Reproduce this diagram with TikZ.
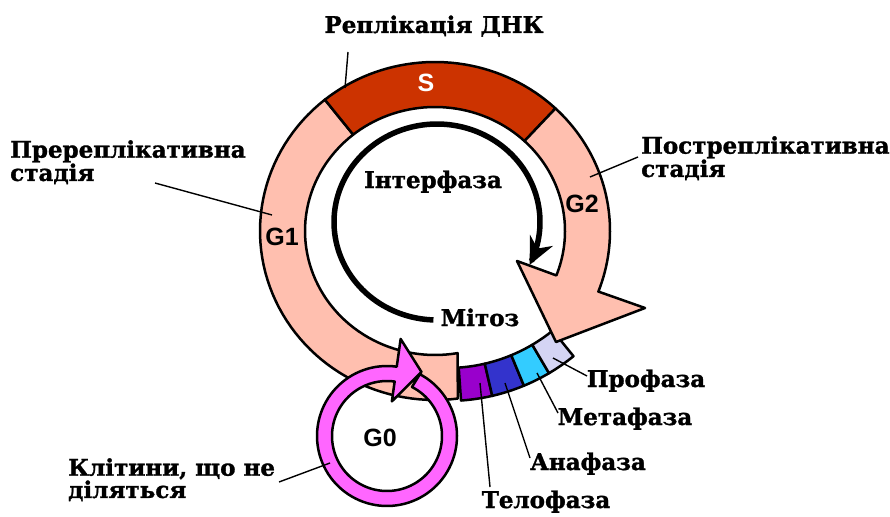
\documentclass[tikz,border=0pt]{standalone}
\usepackage{fontspec}
\setmainfont{DejaVu Serif}[BoldFeatures={FakeBold=1.3}]
\newfontfamily\gfont{Liberation Sans}
\usetikzlibrary{arrows.meta}
\definecolor{pinkG}{HTML}{FFBFAF}
\definecolor{sred}{HTML}{CC3300}
\definecolor{gzero}{HTML}{FF66FF}
\definecolor{telo}{HTML}{9900CC}
\definecolor{ana}{HTML}{3333CC}
\definecolor{meta}{HTML}{33CCFF}
\definecolor{pro}{HTML}{D4D4F4}
\begin{document}
\begin{tikzpicture}[x=1pt,y=-1pt,
  ring/.style={draw=black, line width=2.5pt, line join=round},
  lbl/.style={font=\fontsize{23}{21}\selectfont\bfseries, inner sep=0pt},
  glbl/.style={font=\fontsize{25}{25}\selectfont\gfont\bfseries, inner sep=0pt},
  leader/.style={draw=black, line width=1.4pt}]
\useasboundingbox (0,0) rectangle (890,516);
\fill[white] (0,0) rectangle (890,516);
% mitosis segments
\filldraw[ring, fill=telo] plot[domain=77:86,samples=10] ({447+168*cos(\x)},{200+168*sin(\x)}) -- plot[domain=86:77,samples=10] ({447+201*cos(\x)},{200+201*sin(\x)}) -- cycle;
\filldraw[ring, fill=ana] plot[domain=67.5:77,samples=10] ({447+168*cos(\x)},{200+168*sin(\x)}) -- plot[domain=77:67.5,samples=10] ({447+201*cos(\x)},{200+201*sin(\x)}) -- cycle;
\filldraw[ring, fill=meta] plot[domain=59.5:67.5,samples=10] ({447+168*cos(\x)},{200+168*sin(\x)}) -- plot[domain=67.5:59.5,samples=10] ({447+201*cos(\x)},{200+201*sin(\x)}) -- cycle;
\filldraw[ring, fill=pro] plot[domain=51:59.5,samples=10] ({447+168*cos(\x)},{200+168*sin(\x)}) -- plot[domain=59.5:51,samples=10] ({447+201*cos(\x)},{200+201*sin(\x)}) -- cycle;
% G1
\filldraw[ring, fill=pinkG] plot[domain=80:231,samples=60] ({435+130*cos(\x)},{231+124*sin(\x)}) -- plot[domain=231:82.5,samples=60] ({435+175*cos(\x)},{231+169*sin(\x)}) -- cycle;
% S
\filldraw[ring, fill=sred] plot[domain=231:313.5,samples=40] ({435+130*cos(\x)},{231+124*sin(\x)}) -- plot[domain=313.5:231,samples=40] ({435+175*cos(\x)},{231+169*sin(\x)}) -- cycle;
% G2 with arrow head
\filldraw[ring, fill=pinkG] plot[domain=313.5:381,samples=40] ({435+130*cos(\x)},{231+124*sin(\x)}) -- (517,261) -- (556,342) -- (645,308) -- plot[domain=381:313.5,samples=40] ({435+175*cos(\x)},{231+169*sin(\x)}) -- cycle;
% interior arrow
\draw[line width=5.5pt, -{Stealth[length=27pt,width=25pt]}] plot[domain=92:386,samples=120] ({437+103*cos(\x)},{222+98*sin(\x)});
% G0 circular arrow
\filldraw[ring, fill=gzero] plot[domain=298:638,samples=100] ({387+70*cos(\x)},{436+70*sin(\x)}) -- ({387+98*cos(638)},{436+98*sin(638)}) -- (421.5,372) -- ({387+35*cos(638)},{436+35*sin(638)}) -- plot[domain=638:297,samples=100] ({387+55*cos(\x)},{436+55*sin(\x)}) -- cycle;
% labels
\node[lbl, anchor=base] (repl) at (434,33) {Реплікація ДНК};
\node[lbl, anchor=north west, align=left] (pre) at (10,140) {Пререплікативна\\стадія};
\node[lbl, anchor=north west, align=left] (post) at (641,136) {Постреплікативна\\стадія};
\node[lbl, anchor=base] (inter) at (433,188) {Інтерфаза};
\node[lbl, anchor=base] (mit) at (480,326) {Мітоз};
\node[lbl, anchor=north west, align=left] (kl) at (68,458) {Клітини, що не\\діляться};
\node[lbl, anchor=base] (prof) at (646,387) {Профаза};
\node[lbl, anchor=base] (metf) at (625,425) {Метафаза};
\node[lbl, anchor=base] (anf) at (588,470) {Анафаза};
\node[lbl, anchor=base] (telf) at (546,508) {Телофаза};
\node[glbl] (g1) at (282,237) {G1};
\node[glbl] (g2) at (582,204) {G2};
\node[glbl, text=white] (s) at (426,83) {S};
\node[glbl] (g0) at (380,438) {G0};
% leaders
\coordinate (a1) at (348,52); \coordinate (a2) at (345,88);
\coordinate (b1) at (155,183); \coordinate (b2) at (272,215);
\coordinate (c1) at (638,157); \coordinate (c2) at (590,177);
\coordinate (d1) at (279,482); \coordinate (d2) at (330,463);
\coordinate (e1) at (587,376); \coordinate (e2) at (553,358);
\coordinate (f1) at (558,413); \coordinate (f2) at (537,373);
\coordinate (h1) at (530,458); \coordinate (h2) at (505,383);
\coordinate (k1) at (490,487); \coordinate (k2) at (480,383);
\draw[leader] (a1) -- (a2);
\draw[leader] (b1) -- (b2);
\draw[leader] (c1) -- (c2);
\draw[leader] (d1) -- (d2);
\draw[leader] (e1) -- (e2);
\draw[leader] (f1) -- (f2);
\draw[leader] (h1) -- (h2);
\draw[leader] (k1) -- (k2);
\end{tikzpicture}
\end{document}
